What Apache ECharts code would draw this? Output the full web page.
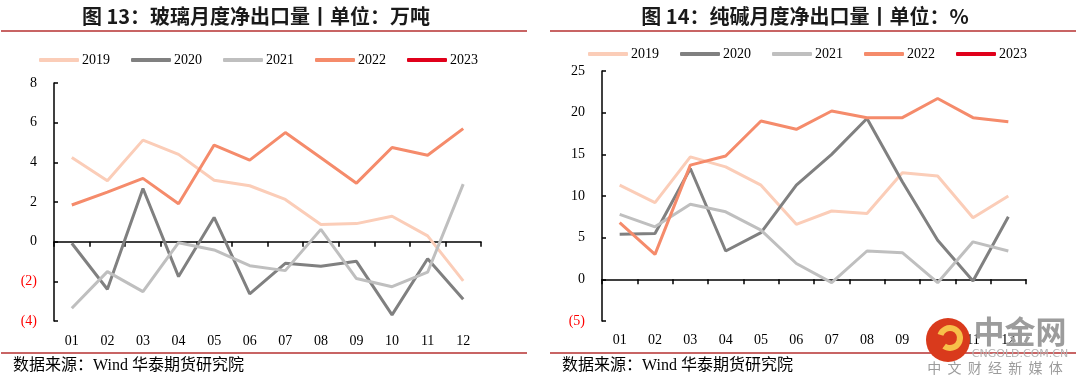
<!DOCTYPE html>
<html><head><meta charset="utf-8">
<script src="https://cdn.jsdelivr.net/npm/echarts@6/dist/echarts.min.js"></script>
<style>html,body{margin:0;padding:0;background:#fff}#c{width:1080px;height:386px}</style>
</head><body><div id="c"></div>
<script>
const months = ['01','02','03','04','05','06','07','08','09','10','11','12'];
const years = ['2019','2020','2021','2022','2023'];
const colors = ['#fbcdb8','#808080','#bfbfbf','#f58b6b','#e0001b'];

// 图13 玻璃月度净出口量（万吨）
const glass2019 = [4.24,3.07,5.12,4.40,3.10,2.82,2.13,0.87,0.91,1.28,0.29,-1.98];
const glass2020 = [-0.08,-2.40,2.68,-1.76,1.22,-2.63,-1.09,-1.24,-0.99,-3.69,-0.86,-2.90];
const glass2021 = [-3.36,-1.51,-2.52,-0.05,-0.42,-1.21,-1.46,0.62,-1.86,-2.27,-1.54,2.90];
const glass2022 = [1.85,2.50,3.19,1.91,4.87,4.11,5.50,4.23,2.95,4.75,4.36,5.70];
const glass2023 = [];

// 图14 纯碱月度净出口量（%）
const soda2019 = [11.3,9.2,14.7,13.5,11.3,6.6,8.2,7.9,12.8,12.4,7.4,10.0];
const soda2020 = [5.4,5.5,13.3,3.4,5.6,11.3,15.0,19.3,11.7,4.7,-0.2,7.5];
const soda2021 = [7.8,6.3,9.0,8.1,5.9,1.9,-0.4,3.4,3.2,-0.4,4.5,3.4];
const soda2022 = [6.8,3.0,13.7,14.8,19.0,18.0,20.2,19.4,19.4,21.7,19.4,18.9];
const soda2023 = [];

const glassTicks = {min:-4, max:8, interval:2};
const sodaTicks = {min:-5, max:25, interval:5};

const serif = 'Liberation Serif, Noto Sans CJK SC';
const cjk = 'Noto Sans CJK SC';

function yFmt(v){ return v < 0 ? '{n|(' + Math.abs(v) + ')}' : String(v); }

function yAxis(grid, t, margin){
  return {type:'value', gridIndex:grid, min:t.min, max:t.max, interval:t.interval,
    axisLine:{show:true, onZero:false, lineStyle:{color:'#000', width:1.5}},
    axisTick:{show:true, inside:true, length:4, lineStyle:{color:'#000', width:1.5}},
    splitLine:{show:false},
    axisLabel:{formatter:yFmt, color:'#000', fontFamily:serif, fontSize:14, margin:margin,
      rich:{n:{color:'#ff0000', fontFamily:serif, fontSize:14}}}};
}
function xLabelAxis(grid, margin){
  return {type:'category', gridIndex:grid, data:months, position:'bottom', boundaryGap:true,
    axisLine:{show:false, onZero:false}, axisTick:{show:false}, splitLine:{show:false},
    axisLabel:{color:'#000', fontFamily:serif, fontSize:14, margin:margin}};
}
function xZeroAxis(grid){
  return {type:'category', gridIndex:grid, data:months, boundaryGap:true,
    axisLine:{show:true, onZero:true, lineStyle:{color:'#000', width:1.5}},
    axisTick:{show:true, inside:true, length:5, lineStyle:{color:'#000', width:1.5}},
    axisLabel:{show:false}, splitLine:{show:false}};
}
function mkSeries(name, data, xi, yi, ci){
  return {name:name, type:'line', data:data, xAxisIndex:xi, yAxisIndex:yi, symbol:'none',
    lineStyle:{color:colors[ci], width:3}, itemStyle:{color:colors[ci]}, silent:true, animation:false};
}
const glassData = [glass2019, glass2020, glass2021, glass2022, glass2023];
const sodaData = [soda2019, soda2020, soda2021, soda2022, soda2023];
const series = [];
years.forEach((y,i)=>series.push(mkSeries(y, glassData[i], 0, 0, i)));
years.forEach((y,i)=>series.push(mkSeries(y, sodaData[i], 2, 1, i)));

function legend(left, top){
  return {data:years, left:left, top:top, itemWidth:40, itemHeight:4, itemGap:21, icon:'roundRect',
    textStyle:{color:'#000', fontFamily:serif, fontSize:14, padding:[0,0,0,-2]}, selectedMode:false};
}

function redLine(x1,x2,y){ return {type:'line', shape:{x1:x1,y1:y,x2:x2,y2:y}, style:{stroke:'#c86464', lineWidth:2}, z:10}; }
function text(x,y,t,font,fill,align){ return {type:'text', x:x, y:y, style:{text:t, font:font, fill:fill, align:align||'center', verticalAlign:'middle'}, z:20}; }

const chart = echarts.init(document.getElementById('c'));
chart.setOption({
  animation:false,
  backgroundColor:'#fff',
  grid:[{left:54, top:83, width:427, height:238}, {left:602, top:71, width:424, height:250}],
  xAxis:[xLabelAxis(0,13), xZeroAxis(0), xLabelAxis(1,12), xZeroAxis(1)],
  yAxis:[yAxis(0, glassTicks, 17), yAxis(1, sodaTicks, 17)],
  legend:[legend(34, 48), legend(583, 42)],
  series:series,
  graphic:[
    redLine(1,527,31), redLine(1,527,353), redLine(550,1076,31), redLine(550,1076,353),
    text(256,16,'图 13：玻璃月度净出口量丨单位：万吨','bold 20px ' + cjk,'#1a1a1a'),
    text(805,16,'图 14：纯碱月度净出口量丨单位：%','bold 20px ' + cjk,'#1a1a1a'),
    text(13,366,'数据来源：Wind 华泰期货研究院','16px ' + serif,'#000','left'),
    text(562,366,'数据来源：Wind 华泰期货研究院','16px ' + serif,'#000','left'),
    {type:'circle', shape:{cx:948, cy:340, r:22}, style:{fill:'#d93a1c'}, z:30},
    {type:'arc', shape:{cx:950, cy:338, r:10, startAngle:-Math.PI*0.9, endAngle:Math.PI*0.7}, style:{stroke:'#f7c04a', lineWidth:6, fill:null}, z:31},
    {type:'text', x:1020, y:331, style:{text:'中金网', font:'bold 31px ' + cjk, fill:'#9c9c9c', align:'center', verticalAlign:'middle'}, z:30},
    {type:'text', x:1020, y:354, style:{text:'CNGOLD.COM.CN', font:'11px DejaVu Sans', fill:'#b5b5b5', align:'center', verticalAlign:'middle'}, z:30},
    {type:'text', x:995, y:368, style:{text:'中  文  财  经  新  媒  体', font:'14px ' + cjk, fill:'#9c9c9c', align:'center', verticalAlign:'middle'}, z:30}
  ]
});
</script></body></html>
